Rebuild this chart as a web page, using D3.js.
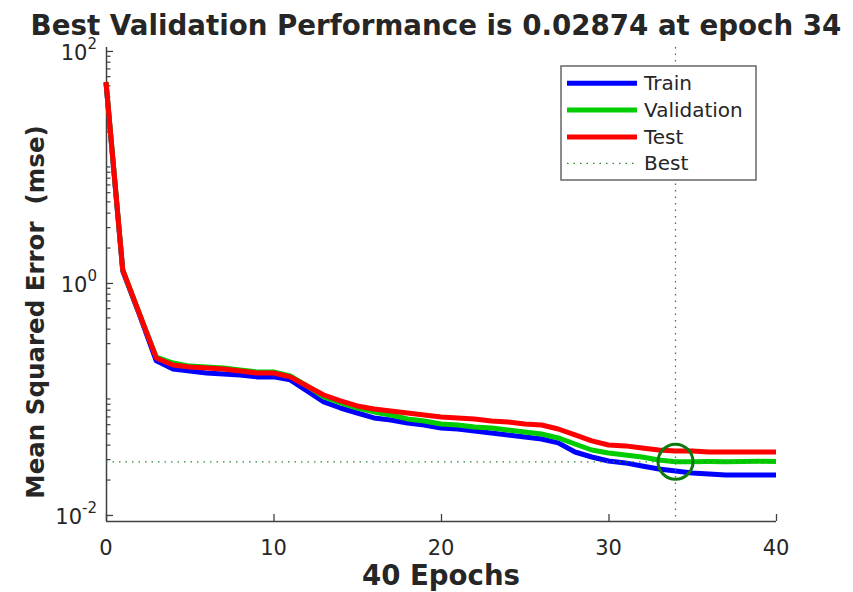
<!DOCTYPE html>
<html>
<head>
<meta charset="utf-8">
<script src="https://cdn.jsdelivr.net/npm/d3@7"></script>
<style>
  body { margin: 0; background: #fff; }
  text { font-family: "DejaVu Sans", sans-serif; fill: #262626; }
</style>
</head>
<body>
<div id="chart"></div>
<script>
// epochs 0..40
const epochs = d3.range(0, 41);

const trainMse = [53.0, 1.268, 0.530, 0.213, 0.1815, 0.174, 0.1675, 0.164, 0.161, 0.155,
  0.155, 0.146, 0.1172, 0.0942, 0.0836, 0.0757, 0.0686, 0.0659, 0.0621, 0.0597,
  0.0562, 0.0551, 0.0530, 0.0509, 0.0490, 0.0470, 0.0452, 0.0418, 0.0349, 0.0316,
  0.0292, 0.0281, 0.0264, 0.0249, 0.0239, 0.0230, 0.0225, 0.0221, 0.0221, 0.0221, 0.0221];

const validationMse = [54.0, 1.294, 0.541, 0.230, 0.204, 0.192, 0.189, 0.185, 0.178, 0.171,
  0.171, 0.158, 0.1294, 0.104, 0.0924, 0.0836, 0.0773, 0.0728, 0.0673, 0.0646,
  0.0608, 0.0597, 0.0574, 0.0562, 0.0541, 0.0520, 0.0499, 0.0461, 0.0409, 0.0363,
  0.0342, 0.0329, 0.0316, 0.0298, 0.02874, 0.0288, 0.0289, 0.0288, 0.0289, 0.0290, 0.0289];

const testMse = [54.0, 1.294, 0.541, 0.2256, 0.196, 0.189, 0.185, 0.1815, 0.174, 0.1675,
  0.1675, 0.155, 0.1294, 0.1082, 0.0961, 0.0871, 0.0820, 0.0788, 0.0757, 0.0728,
  0.0700, 0.0686, 0.0673, 0.0646, 0.0634, 0.0608, 0.0597, 0.0551, 0.0490, 0.0435,
  0.0401, 0.0394, 0.0378, 0.0363, 0.0356, 0.0356, 0.0349, 0.0349, 0.0349, 0.0349, 0.0349];

const bestEpoch = 34;
const bestPerf = 0.02874;

const xTicks = [0, 10, 20, 30, 40];
const yMajorExp = [-2, 0, 2];

const seriesNames = ["Train", "Validation", "Test"];
const seriesColors = ["#0000ff", "#00cc00", "#ff0000"];

const W = 853, H = 592;
const plotL = 106, plotR = 776, plotT = 47, plotB = 521;

const svg = d3.select("#chart").append("svg")
  .attr("width", W)
  .attr("height", H);

const x = d3.scaleLinear().domain([0, 40]).range([plotL, plotR]);
const y = d3.scaleLog().domain([Math.pow(10, -2.052), Math.pow(10, 2.034)]).range([plotB, plotT]);

const axisColor = "#404040";

// minor ticks on the log axis
const minor = [];
for (let e = -2; e < 2; e++) {
  for (let k = 1; k <= 9; k++) {
    if (k === 1 && yMajorExp.includes(e)) continue;
    minor.push(k * Math.pow(10, e));
  }
}
svg.append("g").selectAll("line")
  .data(minor)
  .join("line")
  .attr("x1", plotL).attr("x2", plotL + 4.5)
  .attr("y1", d => y(d)).attr("y2", d => y(d))
  .attr("stroke", axisColor).attr("stroke-width", 1.2);

// y axis, ticks inward
const yAxis = d3.axisRight(y)
  .tickValues(yMajorExp.map(e => Math.pow(10, e)))
  .tickSize(7)
  .tickFormat("");
const gy = svg.append("g")
  .attr("transform", `translate(${plotL},0)`)
  .call(yAxis);
gy.select(".domain").attr("d", `M0.5,${plotT}V${plotB}`);

// x axis, ticks inward
const gx = svg.append("g")
  .attr("transform", `translate(0,${plotB})`)
  .call(d3.axisTop(x).tickValues(xTicks).tickSize(7).tickFormat(""));
gx.select(".domain").attr("d", `M${plotL},0.5H${plotR}`);

svg.selectAll(".domain").attr("stroke", axisColor).attr("stroke-width", 1.5);
svg.selectAll(".tick line").attr("stroke", axisColor).attr("stroke-width", 1.3);

// x tick labels
svg.append("g").selectAll("text")
  .data(xTicks)
  .join("text")
  .attr("x", d => x(d))
  .attr("y", plotB + 34)
  .attr("text-anchor", "middle")
  .attr("font-size", 21)
  .text(d => d);

// y tick labels: 10 with exponent
const yl = svg.append("g").selectAll("text")
  .data(yMajorExp)
  .join("text")
  .attr("x", plotL - 9)
  .attr("y", d => y(Math.pow(10, d)) + 9)
  .attr("text-anchor", "end")
  .attr("font-size", 21);
yl.append("tspan").text("10");
yl.append("tspan").attr("font-size", 15).attr("dy", -11).text(d => d === 0 ? "0" : d);

// data lines
const line = d3.line()
  .x((d, i) => x(epochs[i]))
  .y(d => y(d));

[trainMse, validationMse, testMse].forEach((s, i) => {
  svg.append("path")
    .datum(s)
    .attr("d", line)
    .attr("fill", "none")
    .attr("stroke", seriesColors[i])
    .attr("stroke-width", 5)
    .attr("stroke-linejoin", "round");
});

// best markers
const bestColor = "#2a8a2a";
svg.append("line")
  .attr("x1", plotL).attr("x2", plotR)
  .attr("y1", y(bestPerf)).attr("y2", y(bestPerf))
  .attr("stroke", bestColor).attr("stroke-width", 1.3)
  .attr("stroke-dasharray", "1.5,5");
svg.append("line")
  .attr("x1", x(bestEpoch)).attr("x2", x(bestEpoch))
  .attr("y1", plotT).attr("y2", plotB)
  .attr("stroke", bestColor).attr("stroke-width", 1.3)
  .attr("stroke-dasharray", "1.5,5");
svg.append("circle")
  .attr("cx", x(bestEpoch)).attr("cy", y(bestPerf))
  .attr("r", 17.5)
  .attr("fill", "none")
  .attr("stroke", "#0d7a0d")
  .attr("stroke-width", 3);

// title and labels
svg.append("text")
  .attr("x", 436).attr("y", 35)
  .attr("text-anchor", "middle")
  .attr("font-size", 27.7).attr("font-weight", "bold")
  .attr("fill", "#000")
  .text(`Best Validation Performance is ${bestPerf} at epoch ${bestEpoch}`);

svg.append("text")
  .attr("x", (plotL + plotR) / 2).attr("y", 585)
  .attr("text-anchor", "middle")
  .attr("font-size", 27.6).attr("font-weight", "bold")
  .text("40 Epochs");

svg.append("text")
  .attr("transform", `translate(44,312) rotate(-90)`)
  .attr("text-anchor", "middle")
  .attr("font-size", 24.5).attr("font-weight", "bold")
  .style("white-space", "pre")
  .text("Mean Squared Error  (mse)");

// legend
const lg = svg.append("g");
lg.append("rect")
  .attr("x", 561).attr("y", 66)
  .attr("width", 195).attr("height", 114)
  .attr("fill", "#fff")
  .attr("stroke", "#666").attr("stroke-width", 1.5);
const legendRows = [83.3, 110, 137, 163.3];
seriesNames.forEach((n, i) => {
  lg.append("line")
    .attr("x1", 567).attr("x2", 637)
    .attr("y1", legendRows[i]).attr("y2", legendRows[i])
    .attr("stroke", seriesColors[i]).attr("stroke-width", 5);
  lg.append("text")
    .attr("x", 644).attr("y", legendRows[i] + 7)
    .attr("font-size", 20)
    .text(n);
});
lg.append("line")
  .attr("x1", 567).attr("x2", 637)
  .attr("y1", legendRows[3]).attr("y2", legendRows[3])
  .attr("stroke", bestColor).attr("stroke-width", 1.3)
  .attr("stroke-dasharray", "1.5,5");
lg.append("text")
  .attr("x", 644).attr("y", legendRows[3] + 7)
  .attr("font-size", 20)
  .text("Best");
</script>
</body>
</html>
